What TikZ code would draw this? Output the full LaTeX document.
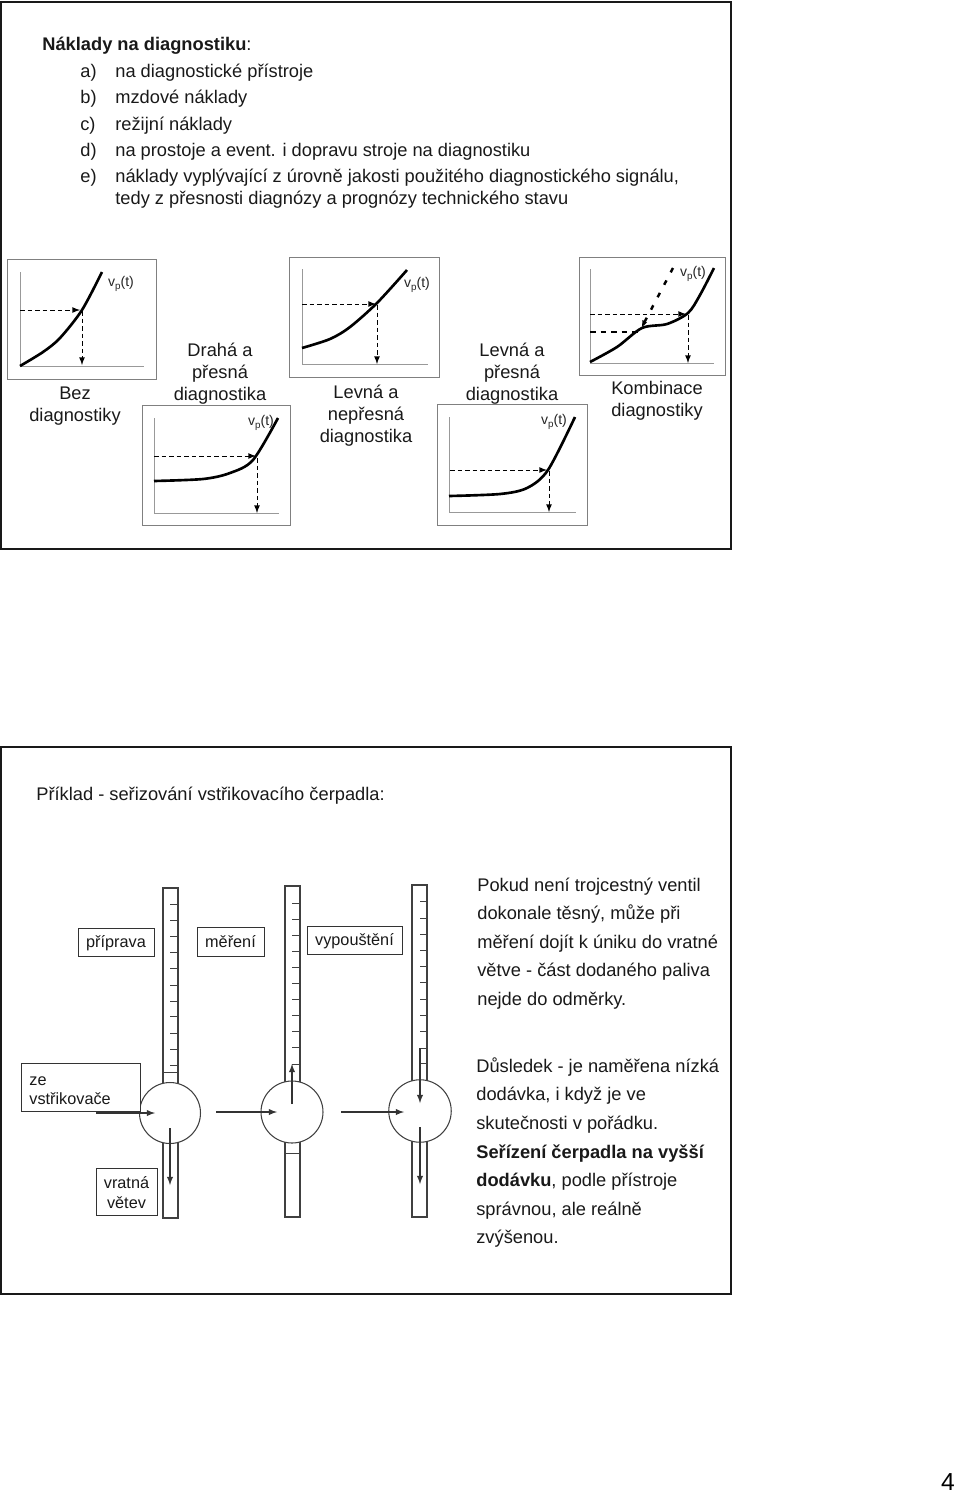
\documentclass[tikz,border=0pt]{standalone}
\usepackage{fontspec}
\setmainfont{Liberation Sans}
\usetikzlibrary{arrows}
\def\vp{v\raisebox{-1.6pt}{\fontsize{5.6}{6}\selectfont p}(t)}
\def\dn#1#2{\raisebox{-#1}[\height][\depth]{#2}}
\tikzset{
  frame/.style={draw=black!90,line width=1.5pt},
  panel/.style={draw=black!50,line width=0.5pt},
  axis/.style={draw=black!40,line width=0.5pt},
  curve/.style={line width=1.5pt,line join=round,smooth},
  thindash/.style={dash pattern=on 2.6pt off 1.7pt,line width=0.5pt,-latex},
  fatdash/.style={dash pattern=on 3.2pt off 2.8pt,line width=1.3pt},
  sparsedash/.style={dash pattern=on 2.8pt off 5.2pt,line width=1.4pt},
  txt/.style={font=\fontsize{10.4}{12.5}\selectfont,anchor=base west,inner sep=0pt,text=black!90},
  caption/.style={font=\fontsize{10.4}{12.5}\selectfont,align=center,inner sep=0pt,text=black!90},
  vplabel/.style={font=\fontsize{8}{9}\selectfont,inner sep=0pt,text=black!85},
  labelbox/.style={draw=black!80,line width=0.5pt,fill=white,font=\fontsize{9.25}{10.9}\selectfont,inner sep=0pt,text=black!90},
  oneline/.style={labelbox,text height=7.6pt,text depth=0.8pt},
  tube/.style={draw=black!75,line width=0.6pt,fill=white},
  tick/.style={draw=black!75,line width=0.5pt},
  flow/.style={draw=black!80,line width=0.6pt,-latex},
  bulb/.style={draw=black!75,line width=0.6pt,fill=white,circle,inner sep=0pt},
}
\begin{document}
\begin{tikzpicture}[x=0.02cm,y=-0.02cm]
\useasboundingbox (0,0) rectangle (960,1495);
%\draw[help lines,step=100] (0,0) grid (960,1495);

\draw[frame] (1,2) rectangle (731,549);
\node[txt] (title) at (42,50) {\textbf{Náklady na diagnostiku}:};
\node[txt] (a) at (80,77) {a)};
\node[txt] (ta) at (115,77) {na diagnostické přístroje};
\node[txt] (b) at (80,103) {b)};
\node[txt] (tb) at (115,103) {mzdové náklady};
\node[txt] (c) at (80,130) {c)};
\node[txt] (tc) at (115,130) {režijní náklady};
\node[txt] (d) at (80,156) {d)};
\node[txt] (td) at (115,156) {na prostoje a event. i dopravu stroje na diagnostiku};
\node[txt] (e) at (80,182) {e)};
\node[txt] (te) at (115,182) {náklady vyplývající z úrovně jakosti použitého diagnostického signálu,};
\node[txt] (tf) at (115,204) {tedy z přesnosti diagnózy a prognózy technického stavu};

\draw[panel] (7,259) rectangle (156,379);
\draw[axis] (20,272)--(20,366)--(144,366);
\draw[curve] plot coordinates {(20,366) (43,352) (60,338) (82,310) (102,272)};
\draw[thindash] (20,310)--(80,310);
\draw[thindash] (82,311)--(82,365);
\node[vplabel] (vp1) at (121,284) {\vp};
\node[caption] (bez) at (75,406) {Bez\\diagnostiky};

\draw[panel] (142,405) rectangle (290,525);
\draw[axis] (154,418)--(154,513)--(279,513);
\draw[curve] plot coordinates {(154,481) (203,479) (230,473) (253,460) (278,418)};
\draw[thindash] (154,456)--(256,456);
\draw[thindash] (257,458)--(257,513);
\node[vplabel] (vp2) at (261,423) {\vp};
\node[caption] (draha) at (220,374) {Drahá a\\přesná\\diagnostika};

\draw[panel] (289,257) rectangle (439,377);
\draw[axis] (302,269)--(302,364)--(428,364);
\draw[curve] plot coordinates {(302,348) (330,339) (350,327) (377,303) (407,270)};
\draw[thindash] (302,304)--(376,304);
\draw[thindash] (377,305)--(377,364);
\node[vplabel] (vp3) at (417,285) {\vp};
\node[caption] (levna) at (366,416) {Levná a\\nepřesná\\diagnostika};

\draw[panel] (437,404) rectangle (587,525);
\draw[axis] (449,417)--(449,512)--(576,512);
\draw[curve] plot coordinates {(449,496) (500,494) (527,488) (548,470) (575,417)};
\draw[thindash] (450,470)--(547,470);
\draw[thindash] (549,471)--(549,512);
\node[vplabel] (vp4) at (554,422) {\vp};
\node[caption] (levna2) at (512,374) {Levná a\\přesná\\diagnostika};

\draw[panel] (579,257) rectangle (725,375);
\draw[axis] (590,269)--(590,363)--(714,363);
\draw[curve] plot coordinates {(590,362) (617,347) (642,328) (667,324) (688,313) (700,295) (714,268)};
\draw[thindash] (590,314)--(686,314);
\draw[thindash] (688,315)--(688,363);
\draw[fatdash] (590,332)--(640,332);
\draw[sparsedash] (673,268)--(644,323);
\fill (642,327)--(642.5,320)--(647,322.5)--cycle;
\node[vplabel] (vp5) at (693,274) {\vp};
\node[caption] (komb) at (657,401) {Kombinace\\diagnostiky};


\draw[frame] (1,747) rectangle (731,1294);
\node[txt] (priklad) at (36,800) {Příklad - seřizování vstřikovacího čerpadla:};

\draw[tube] (163,888) rectangle (178,1085);
\draw[tube] (163,1140) rectangle (178,1218);
\foreach \y in {904,920,936,952,968,985,1001,1016,1033,1049,1065}
  \draw[tick] (170,\y)--(178,\y);
\draw[tick] (163,1072)--(178,1072);
\node[bulb,minimum size=1.22cm] (bulb1) at (170,1113) {};
\coordinate (in1) at (96,1113);
\coordinate (inend1) at (155,1113);
\coordinate (back1) at (170,1128);
\coordinate (backend1) at (170,1185);

\draw[tube] (285,886) rectangle (300,1085);
\draw[tube] (285,1140) rectangle (300,1217);
\foreach \y in {903,919,935,951,967,983,999,1015,1031,1047}
  \draw[tick] (292,\y)--(300,\y);
\draw[tick] (292,1064)--(300,1064);
\draw[tick] (285,1153)--(300,1153);
\node[bulb,minimum size=1.24cm] (bulb2) at (292,1112) {};
\coordinate (in2) at (216,1112);
\coordinate (inend2) at (277,1112);
\coordinate (up2) at (292,1104);
\coordinate (upend2) at (292,1064);

\draw[tube] (412,885) rectangle (427,1085);
\draw[tube] (412,1138) rectangle (427,1217);
\foreach \y in {901,918,934,950,966,982,999,1015,1031}
  \draw[tick] (420,\y)--(427,\y);
\draw[tick] (420,1048)--(427,1048);
\draw[tick] (420,1063)--(427,1063);
\node[bulb,minimum size=1.25cm] (bulb3) at (420,1111) {};
\coordinate (in3) at (341,1112);
\coordinate (inend3) at (404,1112);
\coordinate (down3) at (420,1048);
\coordinate (downend3) at (420,1103);
\coordinate (back3) at (420,1127);
\coordinate (backend3) at (420,1184);

\node[oneline,minimum width=1.52cm,minimum height=0.56cm] (priprava) at (116,942) {příprava};
\node[oneline,minimum width=1.34cm,minimum height=0.58cm] (mereni) at (230.5,941.5) {měření};
\node[oneline,minimum width=1.9cm,minimum height=0.56cm] (vypousteni) at (354.5,940) {vypouštění};
\node[labelbox,align=left,anchor=north west,minimum width=2.36cm,minimum height=0.96cm,text width=2.06cm,inner xsep=0.16cm] (vstrik) at (21,1063) {\dn{1.7pt}{ze}\\\dn{1.7pt}{vstřikovače}};
\node[labelbox,align=center,minimum width=1.22cm,minimum height=0.94cm] (vratna) at (126.5,1191.5) {\dn{0.6pt}{vratná}\\\dn{0.6pt}{větev}};

\draw[flow] (in1)--(inend1);
\draw[flow] (back1)--(backend1);
\draw[flow] (in2)--(inend2);
\draw[flow] (up2)--(upend2);
\draw[flow] (in3)--(inend3);
\draw[flow] (down3)--(downend3);
\draw[flow] (back3)--(backend3);

\node[txt] (p1) at (477,891) {Pokud není trojcestný ventil};
\node[txt] (p2) at (477,919) {dokonale těsný, může při};
\node[txt] (p3) at (477,948) {měření dojít k úniku do vratné};
\node[txt] (p4) at (477,976) {větve - část dodaného paliva};
\node[txt] (p5) at (477,1005) {nejde do odměrky.};
\node[txt] (d1) at (476,1072) {Důsledek - je naměřena nízká};
\node[txt] (d2) at (476,1100) {dodávka, i když je ve};
\node[txt] (d3) at (476,1129) {skutečnosti v pořádku.};
\node[txt] (d4) at (476,1158) {\textbf{Seřízení čerpadla na vyšší}};
\node[txt] (d5) at (476,1186) {\textbf{dodávku}, podle přístroje};
\node[txt] (d6) at (476,1215) {správnou, ale reálně};
\node[txt] (d7) at (476,1243) {zvýšenou.};

\node[font=\fontsize{14}{16}\selectfont,inner sep=0pt] (page) at (948,1482) {4};
\end{tikzpicture}
\end{document}
